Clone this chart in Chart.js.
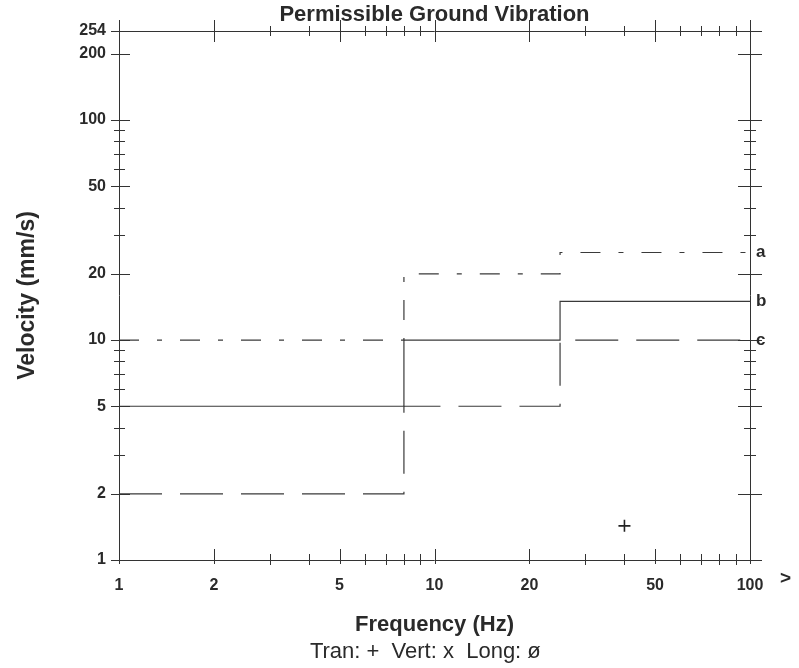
<!DOCTYPE html>
<html><head><meta charset="utf-8">
<script src="https://cdn.jsdelivr.net/npm/chart.js@4/dist/chart.umd.min.js"></script>
<style>html,body{margin:0;padding:0;background:#fff;overflow:hidden}</style>
</head><body>
<canvas id="c" width="799" height="668"></canvas>
<script>
// ---- data ----
const stepFreqs = [1, 8, 25, 100];          // Hz, breakpoints of the step limits
const seriesA = [10, 20, 25, 25];           // mm/s, curve a
const seriesB = [5, 10, 15, 15];            // mm/s, curve b
const seriesC = [2, 5, 10, 10];             // mm/s, curve c
const seriesNames = ['a', 'b', 'c'];
const tranFreq = [40];                      // Tran (+) points
const tranVel = [1.43];
const xTickValues = [1, 2, 5, 10, 20, 50, 100];
const xMinorTicks = [3, 4, 6, 7, 8, 9, 30, 40, 60, 70, 80, 90];
const yTickValues = [1, 2, 5, 10, 20, 50, 100, 200, 254];
const yMinorTicks = [3, 4, 6, 7, 8, 9, 30, 40, 60, 70, 80, 90];

const FONT = 'Liberation Sans, Arial, sans-serif';
const INK = '#2a2a2a';

function pts(vals) { return stepFreqs.map((f, i) => ({ x: f, y: vals[i] })); }

const framePlugin = {
  id: 'frame',
  afterDraw(chart) {
    const { ctx, chartArea: { left, right, top, bottom }, scales: { x, y } } = chart;
    ctx.save();
    ctx.strokeStyle = '#333';
    ctx.lineWidth = 1;
    ctx.beginPath();
    ctx.moveTo(left + 0.5, top); ctx.lineTo(left + 0.5, bottom);
    ctx.moveTo(left, bottom + 0.5); ctx.lineTo(right, bottom + 0.5);
    ctx.moveTo(left, top + 0.5); ctx.lineTo(right, top + 0.5);
    ctx.moveTo(right + 0.5, top); ctx.lineTo(right + 0.5, bottom);
    // x ticks (bottom and top)
    const xt = xTickValues.map(v => [v, true]).concat(xMinorTicks.map(v => [v, false]));
    xt.forEach(([v, major]) => {
      const px = Math.round(x.getPixelForValue(v)) + 0.5;
      ctx.moveTo(px, bottom - (major ? 11 : 6)); ctx.lineTo(px, bottom + (major ? 4 : 5));
      ctx.moveTo(px, top - (major ? 11 : 5)); ctx.lineTo(px, top + (major ? 11 : 5));
    });
    // y ticks (left and right)
    const yt = yTickValues.map(v => [v, true]).concat(yMinorTicks.map(v => [v, false]));
    yt.forEach(([v, major]) => {
      const py = Math.round(y.getPixelForValue(v)) + 0.5;
      ctx.moveTo(left - (major ? 8 : 5), py); ctx.lineTo(left + (major ? 11 : 6), py);
      ctx.moveTo(right - (major ? 12 : 6), py); ctx.lineTo(right + (major ? 12 : 6), py);
    });
    ctx.stroke();
    // curve labels
    ctx.fillStyle = INK;
    ctx.font = 'bold 17px ' + FONT;
    ctx.textAlign = 'left';
    ctx.textBaseline = 'middle';
    [seriesA, seriesB, seriesC].forEach((s, i) => {
      ctx.fillText(seriesNames[i], right + 6, y.getPixelForValue(s[s.length - 1]));
    });
    ctx.font = 'bold 19px ' + FONT;
    ctx.fillText('>', right + 30, bottom + 19);
    ctx.restore();
  }
};

const lineStyle = { borderColor: '#3a3a3a', borderWidth: 1.2, pointRadius: 0, fill: false, stepped: 'before', tension: 0 };

new Chart(document.getElementById('c'), {
  type: 'line',
  data: {
    datasets: [
      Object.assign({ label: 'a', data: pts(seriesA), borderDash: [20, 18, 5, 18] }, lineStyle),
      Object.assign({ label: 'b', data: pts(seriesB) }, lineStyle),
      Object.assign({ label: 'c', data: pts(seriesC), borderDash: [43, 18] }, lineStyle),
      { label: 'Tran', type: 'scatter', data: tranFreq.map((f, i) => ({ x: f, y: tranVel[i] })),
        pointStyle: 'cross', pointRadius: 6, borderColor: '#222', borderWidth: 1.6, showLine: false }
    ]
  },
  options: {
    responsive: false,
    animation: false,
    devicePixelRatio: 1,
    layout: { padding: { left: 0, right: 49, top: 0, bottom: 0 } },
    plugins: {
      legend: { display: false },
      tooltip: { enabled: false },
      title: {
        display: true, text: 'Permissible Ground Vibration', fullSize: false,
        color: INK, font: { family: FONT, size: 22, weight: 'bold' },
        padding: { top: 2, bottom: 2.6 }
      },
      subtitle: {
        display: true, text: 'Tran: +  Vert: x  Long: ø   ', position: 'bottom', fullSize: false,
        color: INK, font: { family: FONT, size: 22, weight: 'normal' },
        padding: { top: 0, bottom: 3 }
      }
    },
    scales: {
      x: {
        type: 'logarithmic', position: 'bottom', min: 1, max: 100,
        grid: { display: false, drawTicks: false }, border: { display: false },
        ticks: { color: INK, font: { family: FONT, size: 16, weight: 'bold' }, padding: 16,
                 autoSkip: false, maxRotation: 0, callback: v => String(v) },
        afterBuildTicks: s => { s.ticks = xTickValues.map(v => ({ value: v })); },
        afterFit: s => { s.height = 78.6; },
        title: { display: true, text: 'Frequency (Hz)', color: INK,
                 font: { family: FONT, size: 22, weight: 'bold' }, padding: { top: 0, bottom: 0 } }
      },
      y: {
        type: 'logarithmic', position: 'left', min: 1, max: 254,
        grid: { display: false, drawTicks: false }, border: { display: false },
        ticks: { color: INK, font: { family: FONT, size: 16, weight: 'bold' }, padding: 13,
                 autoSkip: false, callback: v => String(v) },
        afterBuildTicks: s => { s.ticks = yTickValues.map(v => ({ value: v })); },
        afterFit: s => { s.width = 119; },
        title: { display: true, text: 'Velocity (mm/s)', color: INK,
                 font: { family: FONT, size: 23, weight: 'bold' }, padding: { top: 14, bottom: 0 } }
      }
    }
  },
  plugins: [framePlugin]
});
</script>
</body></html>
